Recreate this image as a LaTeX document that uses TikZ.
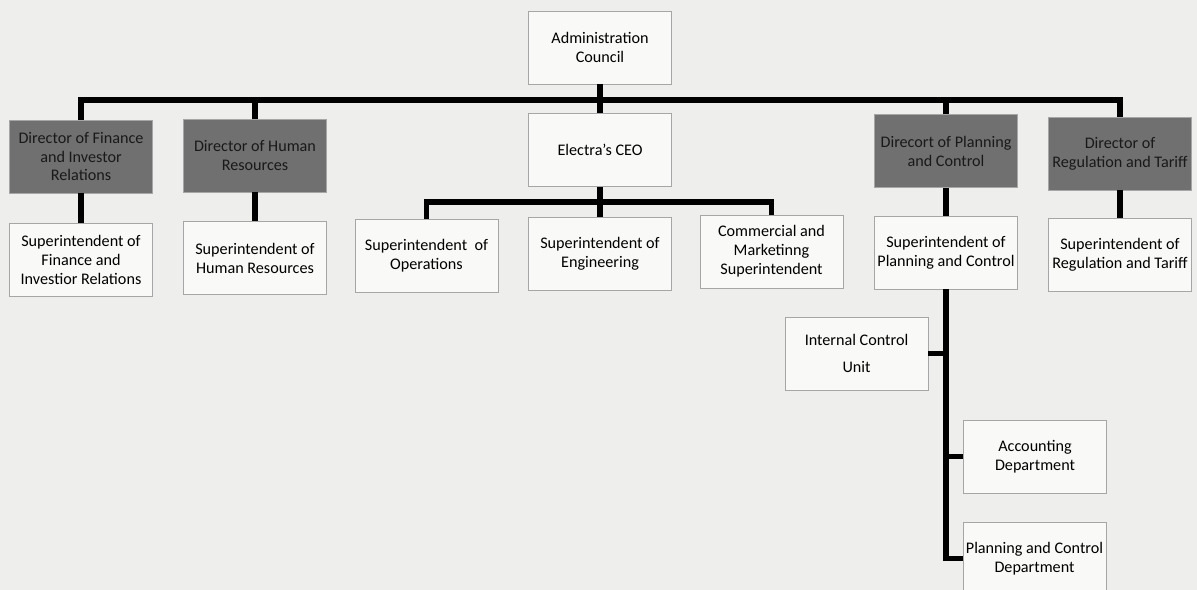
\documentclass[tikz,border=0pt]{standalone}
\usepackage{fontspec}
\setmainfont{Carlito}
\definecolor{paper}{RGB}{238,238,236}
\definecolor{boxfill}{RGB}{249,249,247}
\definecolor{dirgray}{RGB}{112,112,112}
\tikzset{
	unit/.style={draw=gray!70, fill=boxfill, minimum width=3.575cm, minimum height=1.825cm,
		inner sep=1pt, align=center, font=\fontsize{11.5}{13.5}\selectfont},
	director/.style={unit, fill=dirgray, text=black!90},
	link/.style={line width=4pt, black}
}
\begin{document}
\begin{tikzpicture}[x=0.025cm,y=-0.025cm] %[level distance=25mm,sibling distance=40mm]
	\fill[paper] (0,0) rectangle (1197,590);
	\useasboundingbox (0,0) rectangle (1197,590);
	\clip (0,0) rectangle (1197,590);
	% top of the chart
	\node[unit] (council) at (600,47.5) {Administration\\Council};
	\node[director] (dirfin) at (81,156.5) {Director of Finance\\and Investor\\Relations};
	\node[director] (dirhr) at (255,155.5) {Director of Human\\Resources};
	\node[unit] (ceo) at (600,150) {Electra's CEO};
	\node[director] (dirplan) at (946,151) {Direcort of Planning\\and Control};
	\node[director] (dirreg) at (1120,153.5) {Director of\\Regulation and Tariff};
	% superintendents
	\node[unit] (supfin) at (81,260) {Superintendent of\\Finance and\\Investior Relations};
	\node[unit] (suphr) at (255,258) {Superintendent of\\Human Resources};
	\node[unit] (supops) at (426.5,255.5) {Superintendent\ \ of\\Operations};
	\node[unit] (supeng) at (600,254) {Superintendent of\\Engineering};
	\node[unit] (supcom) at (771.5,251.5) {Commercial and\\Marketinng\\Superintendent};
	\node[unit] (supplan) at (946,252.5) {Superintendent of\\Planning and Control};
	\node[unit] (supreg) at (1120,255) {Superintendent of\\Regulation and Tariff};
	% planning and control branch
	\node[unit, font=\fontsize{11.5}{15}\selectfont] (icu) at (856.5,353.5) {Internal Control\\[4pt]Unit};
	\node[unit] (acc) at (1035,456.5) {Accounting\\Department};
	\node[unit] (pcd) at (1034.5,558.5) {Planning and Control\\Department};
	\coordinate (bus) at (0,100);
	\coordinate (ceobus) at (0,202);
	\draw[link] (council) -- (ceo);
	\draw[link] (dirfin.north) -- (dirfin.north |- bus) -- (dirreg.north |- bus) -- (dirreg.north);
	\draw[link] (dirhr.north) -- (dirhr.north |- bus);
	\draw[link] (dirplan.north) -- (dirplan.north |- bus);
	\draw[link] (supops.north) -- (supops.north |- ceobus) -- (supcom.north |- ceobus) -- (supcom.north);
	\draw[link] (ceo) -- (supeng);
	\draw[link] (dirfin) -- (supfin);
	\draw[link] (dirhr) -- (suphr);
	\draw[link] (dirplan) -- (supplan);
	\draw[link] (dirreg) -- (supreg);
	\draw[link] (supplan.south) |- (pcd.west);
	\draw[link] (icu.east) -- (icu.east -| supplan.south);
	\draw[link] (acc.west) -- (acc.west -| supplan.south);
\end{tikzpicture}
\end{document}
